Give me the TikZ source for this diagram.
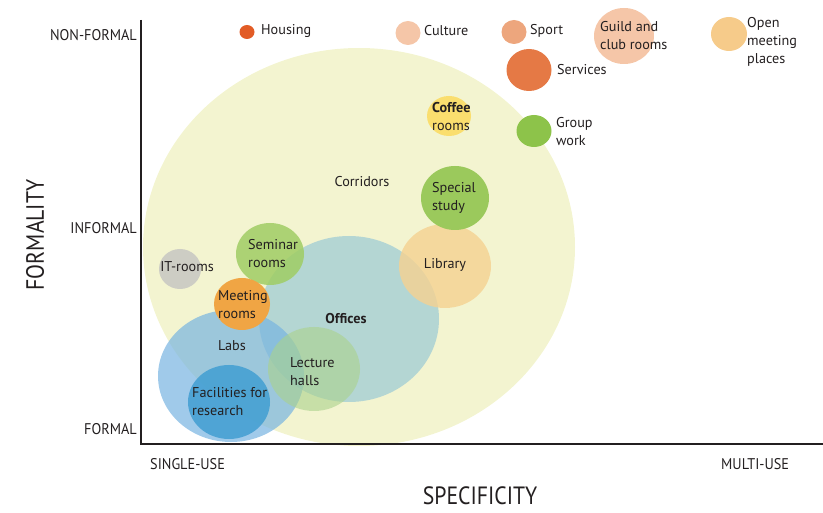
\documentclass[tikz,border=0pt]{standalone}
\usepackage{fontspec}
\setmainfont{PT Sans}
\usepackage{tikz}
\usetikzlibrary{positioning, shapes.geometric}
\definecolor{textgray}{RGB}{35, 31, 32}
\definecolor{housingorange}{RGB}{226, 92, 38}
\definecolor{peach}{RGB}{245, 198, 168}
\definecolor{sportorange}{RGB}{237, 166, 125}
\definecolor{openorange}{RGB}{246, 203, 138}
\definecolor{servicesorange}{RGB}{229, 121, 69}
\definecolor{coffeeyellow}{RGB}{250, 222, 110}
\definecolor{groupgreen}{RGB}{141, 195, 74}
\definecolor{corridoryellow}{RGB}{243, 244, 208}
\definecolor{specialgreen}{RGB}{155, 201, 92}
\definecolor{librarypeach}{RGB}{245, 210, 145}
\definecolor{officeblue}{RGB}{130, 190, 215}
\definecolor{itgray}{RGB}{205, 205, 196}
\definecolor{seminargreen}{RGB}{160, 205, 100}
\definecolor{meetingorange}{RGB}{240, 165, 68}
\definecolor{labsblue}{RGB}{120, 180, 225}
\definecolor{facilityblue}{RGB}{65, 158, 210}
\definecolor{lecturegreen}{RGB}{170, 210, 140}

\begin{document}
\begin{tikzpicture}[x=1pt, y=-1pt,
    bubble/.style args={#1/#2}{ellipse, inner sep=0pt, minimum width=#1pt, minimum height=#2pt},
    lbl/.style={font=\fontsize{14.2}{18}\selectfont, text=textgray, align=left, inner sep=0pt},
    tick/.style={font=\fontsize{15.5}{17}\selectfont, text=textgray, inner sep=0pt},
    title/.style={font=\fontsize{25}{27}\selectfont, text=textgray, inner sep=0pt},
    axis/.style={line width=1.4pt, textgray}
]
\useasboundingbox (0,0) rectangle (823,513);

% Big background bubble
\node[bubble=432/398, fill=corridoryellow] (corridors) at (359,247) {};

% Bubbles inside
\node[bubble=180/166, fill=officeblue, fill opacity=0.55] (offices) at (349,319) {};
\node[bubble=146/132, fill=labsblue, fill opacity=0.7] (labs) at (231,376) {};
\node[bubble=82/74, fill=facilityblue, fill opacity=0.85] (facilities) at (229,402) {};
\node[bubble=92/84, fill=lecturegreen, fill opacity=0.6] (lecture) at (314,369) {};
\node[bubble=68/62, fill=seminargreen, fill opacity=0.85] (seminar) at (270,254) {};
\node[bubble=42/40, fill=itgray] (itrooms) at (180,269) {};
\node[bubble=56/52, fill=meetingorange] (meeting) at (242,304) {};
\node[bubble=92/84, fill=librarypeach, fill opacity=0.8] (library) at (445,266) {};
\node[bubble=68/64, fill=specialgreen] (special) at (455,198) {};
\node[bubble=44/40, fill=coffeeyellow] (coffee) at (449,116) {};
\node[bubble=35/32, fill=groupgreen] (group) at (534,131) {};

% Bubbles on top
\node[bubble=15/14, fill=housingorange] (housing) at (247,32) {};
\node[bubble=25/24, fill=peach] (culture) at (408,33) {};
\node[bubble=25/24, fill=sportorange] (sport) at (514,32) {};
\node[bubble=60/56, fill=peach] (guild) at (624,36) {};
\node[bubble=36/34, fill=openorange] (open) at (729,34) {};
\node[bubble=45/42, fill=servicesorange] (services) at (529,70) {};

% Labels
\node[lbl, anchor=west] (housinglbl) at (261,31) {Housing};
\node[lbl, anchor=west] (culturelbl) at (424,31) {Culture};
\node[lbl, anchor=west] (sportlbl) at (530,31) {Sport};
\node[lbl, anchor=west] (guildlbl) at (600,36) {Guild and\\club rooms};
\node[lbl, anchor=west] (openlbl) at (747,42) {Open\\meeting\\places};
\node[lbl, anchor=west] (serviceslbl) at (557,70) {Services};
\node[lbl, anchor=west] (coffeelbl) at (432,117) {\textbf{Coffee}\\rooms};
\node[lbl, anchor=west] (grouplbl) at (556,132) {Group\\work};
\node[lbl] (corridorslbl) at (362,182) {Corridors};
\node[lbl, anchor=west] (speciallbl) at (432,198) {Special\\study};
\node[lbl] (librarylbl) at (445,265) {Library};
\node[lbl] (itroomslbl) at (187,267) {IT-rooms};
\node[lbl, anchor=west] (seminarlbl) at (248,254) {Seminar\\rooms};
\node[lbl, anchor=west] (meetinglbl) at (218,305) {Meeting\\rooms};
\node[lbl] (officeslbl) at (346,319) {\textbf{Offices}};
\node[lbl] (labslbl) at (232,346) {Labs};
\node[lbl, anchor=west] (lecturelbl) at (290,372) {Lecture\\halls};
\node[lbl, anchor=west] (facilitieslbl) at (192,402) {Facilities for\\research};

% Axes
\coordinate (ytop) at (141,20);
\coordinate (xend) at (823,444);
\draw[axis] (ytop) |- (xend);

\node[tick, anchor=east] (nonformal) at (137,35) {\scalebox{0.92}[1]{NON-FORMAL}};
\node[tick, anchor=east] (informal) at (137,228) {\scalebox{0.92}[1]{INFORMAL}};
\node[tick, anchor=east] (formal) at (137,429) {\scalebox{0.92}[1]{FORMAL}};
\node[tick, anchor=west] (singleuse) at (150,464) {\scalebox{0.92}[1]{SINGLE-USE}};
\node[tick, anchor=west] (multiuse) at (721,464) {\scalebox{0.92}[1]{MULTI-USE}};
\node[title, rotate=90] (formality) at (35,235) {\scalebox{0.87}[1]{FORMALITY}};
\node[title] (specificity) at (480,496) {\scalebox{0.87}[1]{SPECIFICITY}};

\end{tikzpicture}
\end{document}
